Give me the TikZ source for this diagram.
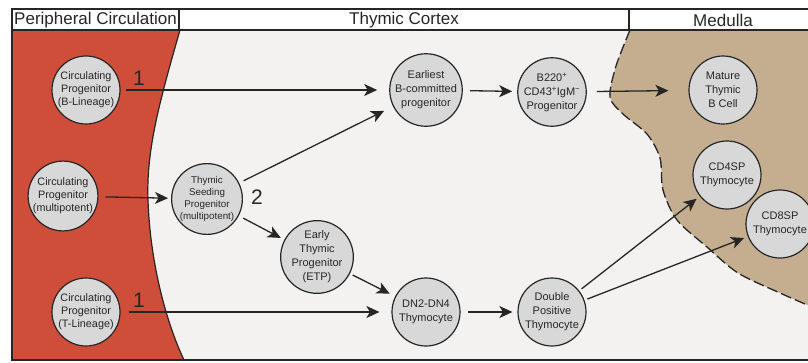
\documentclass[tikz,border=0pt]{standalone}
\usepackage{fontspec}
\setmainfont{Liberation Sans}
\usetikzlibrary{arrows.meta}

\definecolor{inkgray}{RGB}{38,38,38}
\definecolor{periphred}{RGB}{207,78,57}
\definecolor{medtan}{RGB}{197,174,144}
\definecolor{cortexbg}{RGB}{243,242,241}
\definecolor{cellgray}{RGB}{216,216,216}

\tikzset{
  cell/.style={circle, draw=inkgray, line width=1.2pt, fill=cellgray,
    minimum size=68pt, inner sep=0pt, align=center, text=inkgray,
    font=\fontsize{11}{14}\selectfont},
  cellL/.style={cell, font=\fontsize{10.8}{13}\selectfont},
  cellS/.style={cell, font=\fontsize{9.8}{12}\selectfont},
  flow/.style={-{Stealth[length=13pt,width=12pt,inset=3.5pt]}, line width=1.3pt,
    draw=inkgray, shorten <=7pt, shorten >=8pt},
  stage/.style={font=\fontsize{17}{18}\selectfont, text=inkgray},
  route/.style={font=\fontsize{21}{22}\selectfont, text=inkgray},
}

\begin{document}
\begin{tikzpicture}[x=1pt,y=-1pt]

\useasboundingbox (0,0) rectangle (808,362); %% page

%% regions
\fill[cortexbg] (12,30) rectangle (812,360);
\fill[periphred] (12,30) -- (180,30) .. controls (160,100) and (146,150) .. (148,200)
  .. controls (150,262) and (166,322) .. (184,360) -- (12,360) -- cycle;
\draw[inkgray, line width=1.2pt] (180,30) .. controls (160,100) and (146,150) .. (148,200)
  .. controls (150,262) and (166,322) .. (184,360);
\fill[medtan] plot[smooth] coordinates {(630,30) (616,66) (610,97) (623,114) (647,134)
  (660,158) (663,190) (677,220) (707,247) (738,273) (780,293) (812,307)}
  -- (812,30) -- cycle;
\draw[inkgray, line width=1.3pt, dash pattern=on 11pt off 4pt]
  plot[smooth] coordinates {(630,30) (616,66) (610,97) (623,114) (647,134)
  (660,158) (663,190) (677,220) (707,247) (738,273) (780,293) (812,307)};

%% header and frame
\draw[inkgray, line width=1.4pt, fill=white] (12,9) rectangle (820,30);
\draw[inkgray, line width=1.4pt] (179,9) -- (179,30) (629,9) -- (629,30);
\draw[inkgray, line width=1.4pt] (12,30) -- (12,360) -- (820,360);
\node[stage] (hPeri) at (95.5,20) {Peripheral Circulation};
\node[stage] (hCortex) at (404,20) {Thymic Cortex};
\node[stage] (hMed) at (723,20) {Medulla};

%% cells
\node[cellL] (cpB) at (86,90) {Circulating\\Progenitor\\(B-Lineage)};
\node[cellL] (cpM) at (63,196) {Circulating\\Progenitor\\(multipotent)};
\node[cellL] (cpT) at (86,312) {Circulating\\Progenitor\\(T-Lineage)};
\node[cellS] (tsp) at (207,199) {Thymic\\Seeding\\Progenitor\\(multipotent)};
\node[cell] (ebc) at (426,90) {Earliest\\B-committed\\progenitor};
\node[cell] (bpro) at (552,92) {B220\textsuperscript{+}\\CD43\textsuperscript{+}IgM\textsuperscript{−}\\Progenitor};
\node[cell] (etp) at (317,257) {Early\\Thymic\\Progenitor\\(ETP)};
\node[cell] (dn) at (426,312) {DN2-DN4\\Thymocyte};
\node[cell] (dp) at (552,312) {Double\\Positive\\Thymocyte};
\node[cell] (mbc) at (723,90) {Mature\\Thymic\\B Cell};
\node[cell] (cd4) at (727,175) {CD4SP\\Thymocyte};
\node[cell] (cd8) at (780,224) {CD8SP\\Thymocyte};

\node[route] (oneB) at (139,78) {1};
\node[route] (oneT) at (139,300) {1};
\node[route] (two) at (257,197) {2};

%% arrows
\draw[flow, shorten <=5pt, shorten >=12pt] (cpB) -- (ebc);
\draw[flow, shorten >=3pt] (cpM) -- (tsp);
\draw[flow, shorten <=8pt, shorten >=12pt] (cpT) -- (dn);
\draw[flow, shorten <=5pt, shorten >=10pt] (tsp) -- (ebc);
\draw[flow, shorten <=5pt, shorten >=4pt] (tsp) -- (etp);
\draw[flow, shorten <=3pt, shorten >=6pt] (etp) -- (dn);
\draw[flow, shorten >=5pt] (ebc) -- (bpro);
\draw[flow, shorten <=10pt, shorten >=20pt] (bpro) -- (mbc);
\draw[flow, shorten >=5pt] (dn) -- (dp);
\draw[flow, shorten <=3pt, shorten >=4pt] (dp) -- (cd4);
\draw[flow, shorten <=3pt, shorten >=4pt] (dp.20) -- (cd8);

\end{tikzpicture}
\end{document}
